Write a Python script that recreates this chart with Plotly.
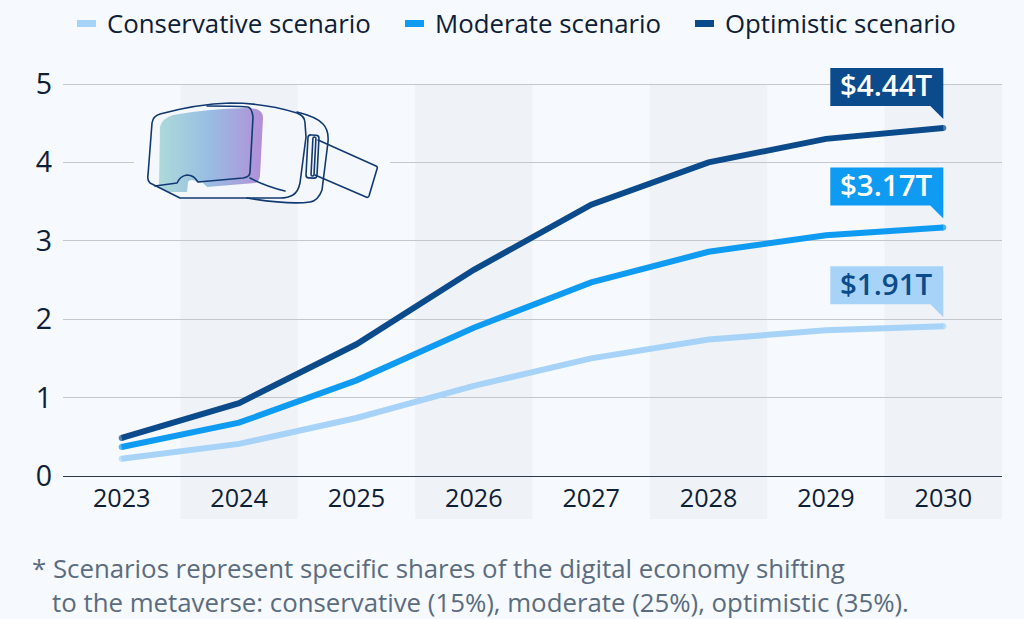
import plotly.graph_objects as go
import base64

years = ["2023", "2024", "2025", "2026", "2027", "2028", "2029", "2030"]
conservative = [0.22, 0.41, 0.74, 1.15, 1.50, 1.74, 1.86, 1.91]
moderate = [0.37, 0.68, 1.22, 1.89, 2.47, 2.86, 3.07, 3.17]
optimistic = [0.485, 0.93, 1.68, 2.63, 3.46, 4.00, 4.30, 4.44]
series_names = ["Conservative scenario", "Moderate scenario", "Optimistic scenario"]
series_colors = ["#A6D3F7", "#0F9BF2", "#0B4A8B"]
callout_text = ["$1.91T", "$3.17T", "$4.44T"]
callout_text_colors = ["#0B4A8B", "#FFFFFF", "#FFFFFF"]
footnote = ("* Scenarios represent specific shares of the digital economy shifting<br>"
            "\u00a0\u00a0\u00a0to the metaverse: conservative (15%), moderate (25%), optimistic (35%).")

BG = "#F6F9FD"
BAND = "#EFF3F8"
GRID = "#C3C8CE"
INK = "#0E2036"
FONT = "Open Sans"
L, R, T, B = 63, 22, 60, 143
PW, PH = 1024 - L - R, 619 - T - B
BASE = T + PH            # pixel row of value 0
YMAX = PH / (392 / 5)    # keeps 78.4 px per unit while leaving head-room for the top callout

fig = go.Figure()
for vals, name, col in zip([conservative, moderate, optimistic], series_names, series_colors):
    fig.add_trace(go.Scatter(x=years, y=vals, mode="lines+markers", name=name, showlegend=False,
                             line=dict(color=col, width=6),
                             marker=dict(color=col, size=[6, 0, 0, 0, 0, 0, 0, 6], line_width=0),
                             hoverinfo="x+y", cliponaxis=False))

shapes = []
for i in (1, 3, 5, 7):
    shapes.append(dict(type="rect", layer="below", xref="x", yref="paper",
                       x0=i - 0.5, x1=i + 0.5, y0=-43 / PH, y1=392 / PH,
                       fillcolor=BAND, line_width=0))

annotations = []
for vals, col, txt, tcol in zip([conservative, moderate, optimistic], series_colors,
                                callout_text, callout_text_colors):
    shapes.append(dict(type="path", layer="above", xref="x", yref="y",
                       xsizemode="pixel", ysizemode="pixel",
                       xanchor=7, yanchor=vals[-1],
                       path="M -113 60 L 0 60 L 0 9 L -13 22 L -113 22 Z",
                       fillcolor=col, line_width=0))
    annotations.append(dict(x=7, y=vals[-1], xref="x", yref="y", text=txt, showarrow=True,
                            arrowcolor="rgba(0,0,0,0)", arrowwidth=0.1, arrowhead=0,
                            axref="pixel", ayref="pixel", ax=-56.5, ay=-43,
                            xanchor="center", yanchor="middle",
                            font=dict(family=FONT, size=29.5, color=tcol, weight=600)))

swatch_x = [77, 405, 695]
for sx, name, col in zip(swatch_x, series_names, series_colors):
    shapes.append(dict(type="rect", xref="paper", yref="paper",
                       x0=(sx - L) / PW, x1=(sx + 19 - L) / PW,
                       y0=(BASE - 27) / PH, y1=(BASE - 20) / PH,
                       fillcolor=col, line_width=0))
    annotations.append(dict(x=(sx + 28 - L) / PW, y=(BASE - 23) / PH, xref="paper", yref="paper",
                            text=name, showarrow=False, xanchor="left", yanchor="middle",
                            font=dict(family=FONT, size=25.8, color=INK)))

annotations.append(dict(x=(30 - L) / PW, y=(BASE - 585) / PH, xref="paper", yref="paper",
                        text=footnote, showarrow=False, xanchor="left", yanchor="middle", align="left",
                        font=dict(family=FONT, size=25.8, color="#5B6C80")))

svg = f'''<svg xmlns="http://www.w3.org/2000/svg" viewBox="130 100 270 110" width="270" height="110">
<defs><linearGradient id="g" x1="0" x2="1" y1="0" y2="0">
<stop offset="0" stop-color="#AEDCD9"/><stop offset="0.5" stop-color="#98BDE3"/><stop offset="1" stop-color="#B28FD8"/></linearGradient></defs>
<rect x="134" y="159" width="46" height="6" fill="{BG}"/>
<rect x="180" y="159" width="118" height="6" fill="{BAND}"/>
<rect x="298" y="159" width="92" height="6" fill="{BG}"/>
<path d="M152 123 Q153 116 160 114 Q197 104 230 103 Q265 103 297 112 Q317 117 323 124 Q329 130 328 142 L322 190 Q318 201 310 202 Q290 205 247 198 L180 198 L150 183 Q147 180 148 175 Z M318 140 L377 167 L368 197 L315 175 Z" fill="#F4F7FB"/>
<path d="M160 127 Q161 119 173 115 Q205 109 248 108 L256 109 Q263 111 263 118 L260 176 Q259 182 255 183 L207 187 L203 184 L198 182 Q190 178 188 182 L187 192 L167 192 L156 186 L159 185 Z" fill="url(#g)"/>
<path d="M202 182 Q196 185 190 186 L188 193 L210 192 L207 187 Z" fill="#F4F7FB"/>
<g fill="none" stroke="#123A72" stroke-width="1.6" stroke-linejoin="round" stroke-linecap="round">
<path d="M152 123 Q153 116 160 114 Q197 104 230 103 Q265 103 297 113 Q305 116 305 123 L306 137 L300 183 Q298 192 293 195 Q288 198 280 198 L180 198 L150 183 Q147 180 148 175 Z"/>
<path d="M297 112 Q317 117 323 124 Q329 130 328 142 L322 190 Q318 201 310 202 Q290 205 247 198"/>
<path d="M155 186 L177 183 Q180 176 187 175 Q194 175 198 182 L243 178 Q250 177 250 172 L253 117 Q252 108 248 107 Q235 106 207 106"/>
<path d="M250 178 Q265 186 285 191"/>
<rect x="307" y="135" width="11" height="43" rx="3" transform="rotate(3 312 156)"/>
<rect x="312" y="137" width="3" height="39" rx="1.5" transform="rotate(3 313 156)"/>
<path d="M318 140 L376 166 Q378 167 377 169 L369 196 Q368 198 366 197 L315 175"/>
</g></svg>'''
uri = "data:image/svg+xml;base64," + base64.b64encode(svg.encode()).decode()

fig.update_layout(
    width=1024, height=619, autosize=False,
    margin=dict(l=L, r=R, t=T, b=B),
    paper_bgcolor=BG, plot_bgcolor="rgba(0,0,0,0)",
    font=dict(family=FONT, color=INK),
    showlegend=False, shapes=shapes, annotations=annotations,
    images=[dict(source=uri, xref="paper", yref="paper", x=(130 - L) / PW, y=(BASE - 100) / PH,
                 sizex=270 / PW, sizey=110 / PH, xanchor="left", yanchor="top",
                 sizing="stretch", layer="above")],
    xaxis=dict(type="category", categoryorder="array", categoryarray=years, range=[-0.5, 7.5], showgrid=False,
               showline=True, linecolor="#2A3A4C", linewidth=1, ticks="", ticklen=0,
               tickfont=dict(family=FONT, size=25.2, color=INK), fixedrange=True, zeroline=False),
    yaxis=dict(range=[0, YMAX], tickvals=[0, 1, 2, 3, 4, 5], ticktext=["0", "1", "2", "3", "4", "5"],
               showgrid=True, gridcolor=GRID, gridwidth=1, zeroline=False, showline=False,
               ticklabelstandoff=10,
               tickfont=dict(family=FONT, size=28.5, color=INK), fixedrange=True),
)

fig.write_html("out.html", config=dict(displayModeBar=False),
               post_script=f"document.body.style.margin='0';document.body.style.background='{BG}';")
